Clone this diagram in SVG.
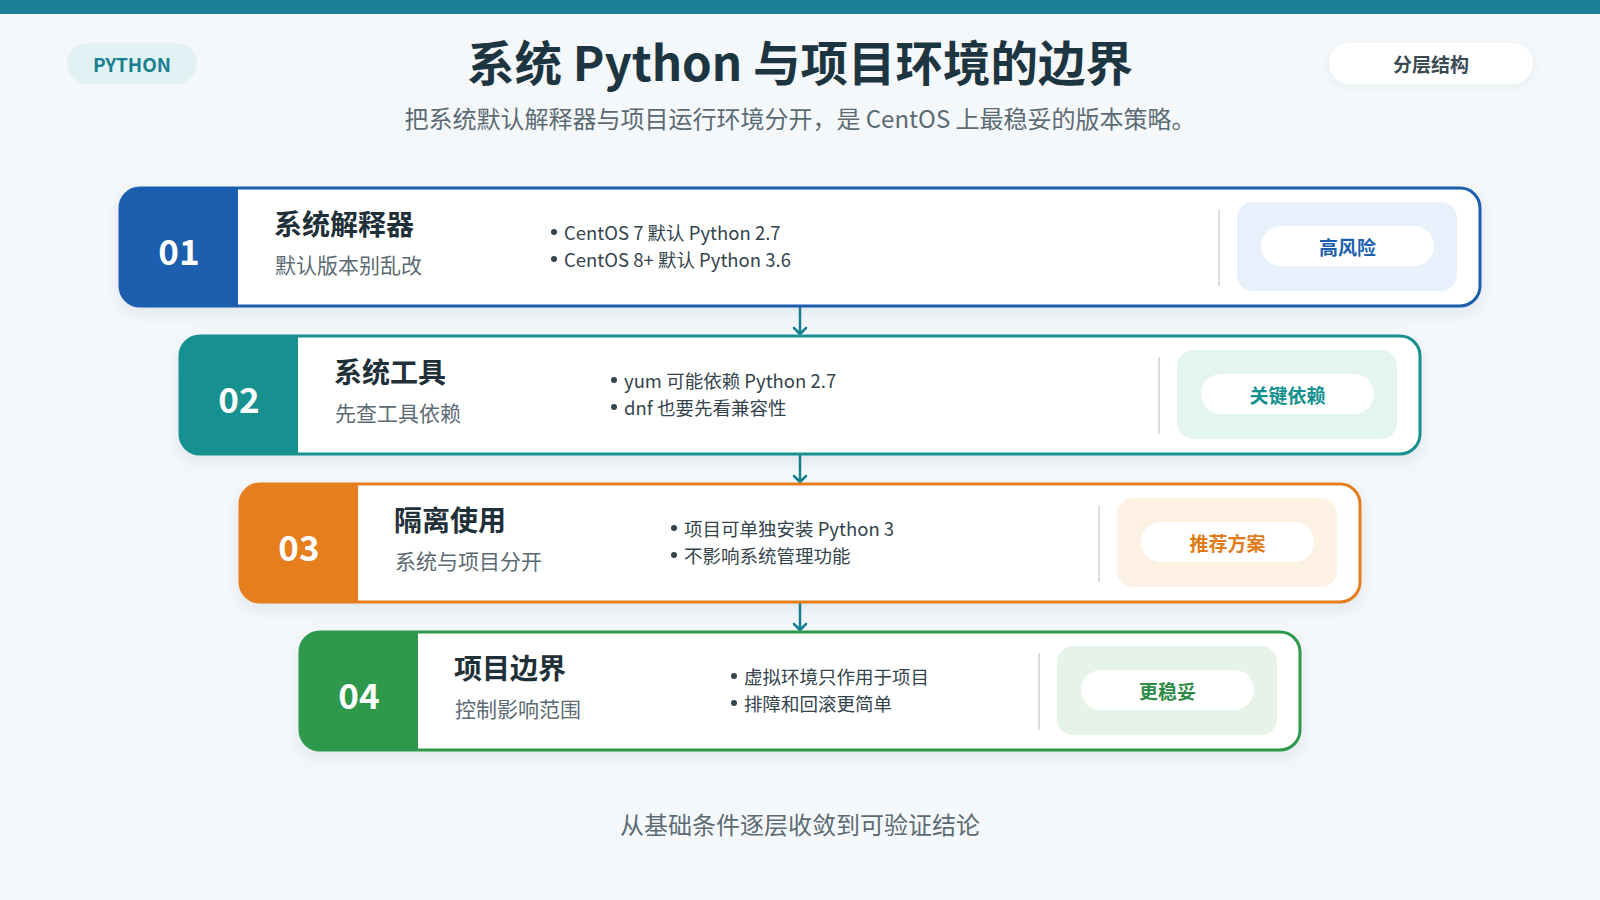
<svg xmlns="http://www.w3.org/2000/svg" width="1600" height="900" viewBox="0 0 1600 900">
<defs>
<style>
text{font-family:"Noto Sans CJK SC","Noto Sans",sans-serif;dominant-baseline:central}
.title{font-size:47.5px;font-weight:700;fill:#1d3540;text-anchor:middle}
.sub{font-size:24px;fill:#5c6b73;text-anchor:middle}
.num{font-size:35px;font-weight:700;fill:#ffffff;text-anchor:middle}
.rt{font-size:28px;font-weight:700;fill:#1f3038}
.rs{font-size:21px;fill:#5c6b73}
.bl{font-size:18.5px;fill:#34444c}
.dot{fill:#34444c}
.bt{font-size:19px;font-weight:700;text-anchor:middle}
.div{stroke:#dcdfe2;stroke-width:2}
.pill{fill:#ffffff}
.conn{stroke:#1a7f8f;stroke-width:2.5;fill:none;stroke-linecap:round;stroke-linejoin:round}
</style>
<filter id="sh" x="-5%" y="-20%" width="110%" height="150%">
<feDropShadow dx="0" dy="6" stdDeviation="8" flood-color="#1a3a50" flood-opacity="0.10"/>
</filter>
<filter id="sh2" x="-10%" y="-30%" width="120%" height="160%">
<feDropShadow dx="0" dy="2" stdDeviation="4" flood-color="#1a3a50" flood-opacity="0.06"/>
</filter>
</defs>
<rect x="0" y="0" width="1600" height="900" fill="#f5f8fb"/>
<rect x="0" y="0" width="1600" height="14" fill="#1a7f97"/>

<g id="tag-python">
<rect x="67" y="43" width="130" height="41" rx="20.5" fill="#e1f1f4"/>
<text x="132" y="63.5" style="font-size:19px;font-weight:700;fill:#1a7f8f;text-anchor:middle">PYTHON</text>
</g>
<g id="tag-layer">
<rect x="1329" y="43" width="204" height="41" rx="20.5" fill="#ffffff" filter="url(#sh2)"/>
<text x="1431" y="63.5" style="font-size:19px;font-weight:700;fill:#3a4a52;text-anchor:middle">分层结构</text>
</g>
<text class="title" x="800" y="60">系统 Python 与项目环境的边界</text>
<text class="sub" x="800" y="117">把系统默认解释器与项目运行环境分开，是 CentOS 上最稳妥的版本策略。</text>

<g id="connectors">
<path class="conn" d="M800 307 V334 M794 328 L800 334 L806 328"/>
<path class="conn" d="M800 455 V482 M794 476 L800 482 L806 476"/>
<path class="conn" d="M800 603 V630 M794 624 L800 630 L806 624"/>
</g>

<g id="node-01">
<rect x="120" y="188" width="1360" height="118" rx="20" fill="#ffffff" filter="url(#sh)"/>
<path d="M140 188 H238 V306 H140 A20 20 0 0 1 120 286 V208 A20 20 0 0 1 140 188 Z" fill="#1b5fae"/>
<rect x="120" y="188" width="1360" height="118" rx="20" fill="none" stroke="#1b5fae" stroke-width="3"/>
<text class="num" x="179" y="249">01</text>
<text class="rt" x="274" y="223">系统解释器</text>
<text class="rs" x="275" y="264">默认版本别乱改</text>
<circle class="dot" cx="554" cy="232" r="3"/>
<circle class="dot" cx="554" cy="259" r="3"/>
<text class="bl" x="564" y="232">CentOS 7 默认 Python 2.7</text>
<text class="bl" x="564" y="259">CentOS 8+ 默认 Python 3.6</text>
<line class="div" x1="1219" y1="209" x2="1219" y2="286"/>
<rect x="1237" y="202" width="220" height="89" rx="16" fill="#e7f0fb"/>
<rect class="pill" x="1261" y="226" width="173" height="40" rx="20"/>
<text class="bt" x="1347.5" y="246" fill="#1b5fae">高风险</text>
</g>

<g id="node-02">
<rect x="180" y="336" width="1240" height="118" rx="20" fill="#ffffff" filter="url(#sh)"/>
<path d="M200 336 H298 V454 H200 A20 20 0 0 1 180 434 V356 A20 20 0 0 1 200 336 Z" fill="#16918f"/>
<rect x="180" y="336" width="1240" height="118" rx="20" fill="none" stroke="#16918f" stroke-width="3"/>
<text class="num" x="239" y="397">02</text>
<text class="rt" x="334" y="371">系统工具</text>
<text class="rs" x="335" y="412">先查工具依赖</text>
<circle class="dot" cx="614" cy="380" r="3"/>
<circle class="dot" cx="614" cy="407" r="3"/>
<text class="bl" x="624" y="380">yum 可能依赖 Python 2.7</text>
<text class="bl" x="624" y="407">dnf 也要先看兼容性</text>
<line class="div" x1="1159" y1="357" x2="1159" y2="434"/>
<rect x="1177" y="350" width="220" height="89" rx="16" fill="#e3f4f1"/>
<rect class="pill" x="1201" y="374" width="173" height="40" rx="20"/>
<text class="bt" x="1287.5" y="394" fill="#12908e">关键依赖</text>
</g>

<g id="node-03">
<rect x="240" y="484" width="1120" height="118" rx="20" fill="#ffffff" filter="url(#sh)"/>
<path d="M260 484 H358 V602 H260 A20 20 0 0 1 240 582 V504 A20 20 0 0 1 260 484 Z" fill="#e67e1e"/>
<rect x="240" y="484" width="1120" height="118" rx="20" fill="none" stroke="#e67e1e" stroke-width="3"/>
<text class="num" x="299" y="545">03</text>
<text class="rt" x="394" y="519">隔离使用</text>
<text class="rs" x="395" y="560">系统与项目分开</text>
<circle class="dot" cx="674" cy="528" r="3"/>
<circle class="dot" cx="674" cy="555" r="3"/>
<text class="bl" x="684" y="528">项目可单独安装 Python 3</text>
<text class="bl" x="684" y="555">不影响系统管理功能</text>
<line class="div" x1="1099" y1="505" x2="1099" y2="582"/>
<rect x="1117" y="498" width="220" height="89" rx="16" fill="#fdf1e3"/>
<rect class="pill" x="1141" y="522" width="173" height="40" rx="20"/>
<text class="bt" x="1227.5" y="542" fill="#e07b1a">推荐方案</text>
</g>

<g id="node-04">
<rect x="300" y="632" width="1000" height="118" rx="20" fill="#ffffff" filter="url(#sh)"/>
<path d="M320 632 H418 V750 H320 A20 20 0 0 1 300 730 V652 A20 20 0 0 1 320 632 Z" fill="#2e994b"/>
<rect x="300" y="632" width="1000" height="118" rx="20" fill="none" stroke="#2e994b" stroke-width="3"/>
<text class="num" x="359" y="693">04</text>
<text class="rt" x="454" y="667">项目边界</text>
<text class="rs" x="455" y="708">控制影响范围</text>
<circle class="dot" cx="734" cy="676" r="3"/>
<circle class="dot" cx="734" cy="703" r="3"/>
<text class="bl" x="744" y="676">虚拟环境只作用于项目</text>
<text class="bl" x="744" y="703">排障和回滚更简单</text>
<line class="div" x1="1039" y1="653" x2="1039" y2="730"/>
<rect x="1057" y="646" width="220" height="89" rx="16" fill="#e6f3e8"/>
<rect class="pill" x="1081" y="670" width="173" height="40" rx="20"/>
<text class="bt" x="1167.5" y="690" fill="#2e8b45">更稳妥</text>
</g>

<text class="sub" x="800" y="823">从基础条件逐层收敛到可验证结论</text>
</svg>
